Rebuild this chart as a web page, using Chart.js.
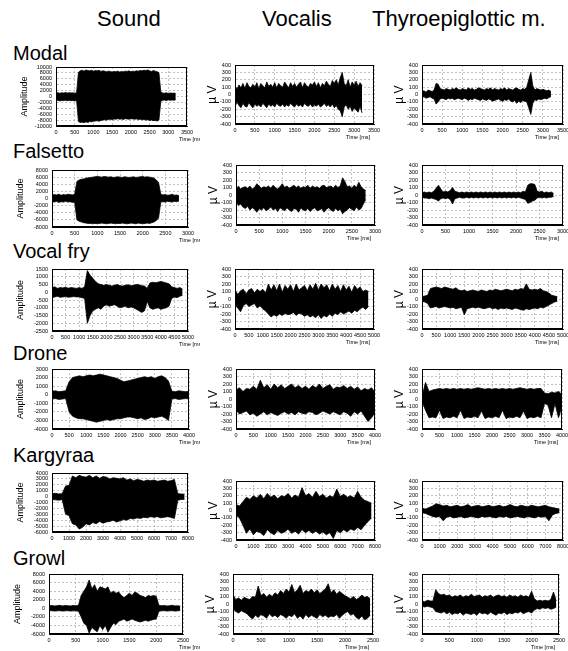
<!DOCTYPE html>
<html lang="en">
<head>
  <meta charset="UTF-8" />
  <title>Sound and EMG waveforms</title>
  <script src="https://cdn.jsdelivr.net/npm/chart.js"></script>
  <style>
    body {
      margin: 0;
      width: 568px;
      height: 651px;
      overflow: hidden;
      position: relative;
      background: #fff;
      font-family: 'Liberation Sans', Arial, sans-serif;
    }
    .lbl {
      position: absolute;
      color: #000;
      white-space: nowrap;
      font-size: 20px;
      line-height: 20px;
    }
    .head { font-size: 22px; line-height: 22px; }
    canvas { position: absolute; }
  </style>
</head>
<body>
<script>
  const rowNames = ['Modal', 'Falsetto', 'Vocal fry', 'Drone', 'Kargyraa', 'Growl'];
  const colNames = ['Sound', 'Vocalis', 'Thyroepiglottic m.'];

  // x axis per row (ms)
  const xMax = [3500, 3000, 5000, 4000, 8000, 2500];
  const xTickStep = [500, 500, 500, 500, 1000, 500];
  const sampleMs = [50, 50, 100, 100, 200, 50];
  const showTime = [true, true, true, true, false, true];

  // sound amplitude axis per row
  const ampMin = [-10000, -8000, -2500, -4000, -6000, -6000];
  const ampMax = [10000, 8000, 1500, 3000, 4000, 8000];
  const ampStep = [2000, 2000, 500, 1000, 1000, 2000];

  // EMG axis (µV)
  const emgMin = -400, emgMax = 400, emgStep = 100;

  // ---- Modal (0..3200 ms, every 50 ms) ----
  const modalSoundHi = [1200,1300,1100,1250,1200,1350,1150,1300,1200,1250,1100,1300,
    8200,8700,8900,8600,9000,8800,8700,8900,8600,8800,
    8700,8900,8500,8700,8600,8400,8600,8500,8300,8500,
    8400,8600,8300,8500,8400,8600,8500,8700,8400,8600,
    8500,8700,8600,8800,8700,8900,8800,9000,8700,8500,
    8800,8600,8400,8100,
    1500,
    1200,1100,1250,1000,1200,1100,1150,1000];
  const modalSoundLo = [-1400,-1300,-1500,-1350,-1400,-1250,-1450,-1300,-1400,-1350,-1500,-1300,
    -8500,-8800,-8700,-8900,-8600,-8800,-8500,-8600,-8400,-8300,
    -8200,-8400,-8100,-8000,-7900,-8000,-7800,-7700,-7900,-7600,
    -7700,-7500,-7700,-7600,-7800,-7500,-7600,-7700,-7500,-7600,
    -7700,-7600,-7800,-7700,-7900,-7800,-8000,-7900,-8100,-8000,
    -8200,-8100,-8300,-8000,
    -1600,
    -1300,-1200,-1400,-1100,-1300,-1200,-1250,-1100];
  const modalVocHi = [120,70,130,90,150,80,160,110,90,140,
    100,160,80,150,120,90,170,110,140,100,
    160,90,150,120,100,170,130,90,160,110,
    150,100,140,170,90,160,120,100,150,130,
    170,110,160,90,150,120,180,140,110,190,
    150,200,130,230,300,150,120,200,100,170,
    130,180,110,160,120];
  const modalVocLo = [-170,-100,-150,-180,-120,-160,-170,-110,-150,-180,
    -130,-160,-140,-170,-120,-150,-180,-130,-160,-140,
    -170,-120,-150,-160,-130,-170,-140,-160,-120,-150,
    -170,-130,-160,-140,-170,-120,-150,-160,-130,-170,
    -140,-160,-130,-170,-150,-120,-160,-140,-170,-130,
    -180,-150,-200,-220,-300,-170,-140,-200,-160,-230,
    -180,-210,-240,-160,-250];
  const modalThyHi = [40,50,30,60,50,40,60,150,140,80,
    70,60,80,70,60,80,70,90,70,60,
    80,70,60,90,70,80,60,70,90,80,
    70,60,80,70,90,60,80,70,60,80,
    70,90,60,80,70,60,80,90,70,60,
    80,70,100,200,300,120,60,80,70,60,
    70,60,50,60,40];
  const modalThyLo = [-40,-30,-50,-40,-30,-50,-60,-130,-100,-60,
    -50,-60,-70,-50,-60,-50,-70,-60,-50,-60,
    -70,-50,-60,-80,-60,-70,-50,-60,-70,-80,
    -60,-70,-80,-60,-70,-90,-80,-70,-60,-80,
    -90,-70,-80,-60,-90,-100,-80,-120,-90,-110,
    -80,-90,-100,-180,-270,-120,-70,-80,-60,-70,
    -60,-50,-60,-40,-30];

  // ---- Falsetto (0..2800 ms, every 50 ms) ----
  const falsSoundHi = [900,1100,1000,1200,900,1100,1000,1200,1100,1000,
    1200,4800,5200,5400,5500,5700,5800,5900,6000,6100,
    6200,6100,6000,6200,6100,6000,6100,5900,6000,6100,
    6000,5900,6100,6000,5900,6000,6100,5900,6000,6100,
    6200,6000,6100,6000,5900,5700,5200,4500,1200,1000,
    1100,900,1000,1200,900,1000,800];
  const falsSoundLo = [-900,-1000,-800,-1100,-900,-1000,-800,-1000,-900,-1100,
    -1000,-6000,-6400,-6600,-6800,-6900,-7000,-7000,-7100,-7000,
    -7100,-7000,-6900,-7000,-7100,-7000,-6900,-7000,-7100,-7000,
    -7000,-6900,-7000,-7100,-7000,-6900,-7000,-7100,-6900,-7000,
    -7100,-7000,-6900,-7000,-6800,-6600,-6200,-5500,-1000,-900,
    -1000,-800,-900,-1000,-800,-900,-700];
  const falsVocHi = [60,120,80,100,110,90,120,80,100,150,
    120,90,110,100,120,90,130,100,80,110,
    150,100,120,90,110,130,100,120,90,110,
    100,130,90,120,100,110,90,120,130,100,
    110,120,90,130,100,120,230,180,110,120,
    90,130,100,170,110,80,60];
  const falsVocLo = [-80,-140,-120,-160,-180,-150,-200,-170,-190,-230,
    -180,-200,-170,-210,-190,-160,-200,-180,-220,-170,
    -190,-210,-170,-200,-220,-180,-190,-230,-170,-200,
    -210,-180,-220,-190,-170,-210,-200,-180,-230,-190,
    -170,-200,-220,-180,-210,-190,-250,-220,-200,-170,
    -190,-210,-160,-200,-180,-120,-60];
  const falsThyHi = [30,40,30,40,30,50,90,130,80,40,
    50,40,60,100,50,40,30,40,30,40,
    30,40,30,40,30,40,30,40,30,40,
    30,40,30,40,30,40,30,40,30,40,
    30,40,30,50,40,130,150,150,140,50,
    40,50,30,40,30,40,20];
  const falsThyLo = [-30,-40,-40,-50,-40,-50,-60,-80,-50,-40,
    -50,-40,-60,-120,-50,-40,-30,-40,-40,-30,
    -40,-30,-40,-30,-40,-30,-40,-30,-40,-30,
    -40,-30,-40,-30,-40,-30,-40,-30,-40,-30,
    -40,-30,-40,-50,-60,-110,-100,-80,-70,-40,
    -30,-40,-30,-40,-30,-30,-20];

  // ---- Vocal fry (0..4800 ms, every 100 ms) ----
  const fryAmpHi = [300,350,250,300,280,320,260,300,280,250,
    300,250,350,1400,1100,900,700,550,500,450,
    500,450,400,450,500,420,400,450,480,420,
    450,500,480,420,400,250,600,650,620,650,
    700,650,600,550,350,300,250,300,200];
  const fryAmpLo = [-350,-300,-250,-330,-300,-280,-320,-300,-280,-300,
    -300,-350,-400,-2000,-1500,-1200,-1100,-1000,-1100,-900,
    -800,-900,-850,-800,-900,-1000,-950,-900,-1000,-950,
    -1000,-1100,-1200,-1300,-1200,-600,-1000,-1100,-1050,-1000,
    -1100,-1050,-1000,-900,-400,-300,-350,-250,-200];
  const fryVocHi = [120,60,110,130,70,120,140,80,130,100,
    130,80,200,120,190,110,200,90,180,130,
    190,100,200,120,150,180,110,190,130,210,
    120,200,150,190,110,200,130,180,100,190,
    120,170,90,180,130,160,100,120,100];
  const fryVocLo = [-80,-120,-170,-90,-60,-100,-80,-60,-120,-90,
    -130,-160,-200,-240,-210,-230,-200,-220,-190,-210,
    -200,-180,-220,-190,-200,-230,-210,-240,-220,-250,
    -210,-260,-220,-240,-200,-230,-190,-210,-170,-200,
    -180,-160,-190,-150,-170,-130,-110,-140,-100];
  const fryThyHi = [30,40,50,140,150,160,150,140,160,150,
    140,130,150,120,110,120,100,110,120,110,
    100,120,110,100,120,110,130,120,110,120,
    130,120,110,130,120,140,130,200,130,120,
    130,120,140,110,100,80,50,40,30];
  const fryThyLo = [-30,-40,-60,-120,-110,-100,-120,-110,-100,-110,
    -120,-110,-130,-120,-110,-210,-130,-120,-110,-120,
    -110,-120,-130,-120,-110,-130,-120,-140,-120,-130,
    -120,-130,-140,-120,-130,-140,-150,-130,-140,-130,
    -120,-130,-110,-120,-100,-80,-60,-40,-30];

  // ---- Drone (0..4000 ms, every 100 ms) ----
  const droneAmpHi = [400,450,350,400,450,1500,2000,2100,2200,2100,
    2200,2300,2200,2300,2400,2300,2200,2100,2000,1900,
    1700,1500,1600,1700,1800,1900,2000,2100,2000,2100,
    1900,2100,2200,2000,1600,400,350,450,400,350,400];
  const droneAmpLo = [-500,-450,-550,-500,-450,-2000,-2500,-2700,-2800,-2800,
    -2900,-3000,-3100,-3200,-3100,-3000,-2900,-3000,-2900,-2800,
    -2800,-2700,-2600,-2600,-2700,-2800,-2700,-2900,-2800,-2600,
    -2700,-2600,-2500,-2700,-3000,-500,-450,-550,-500,-450,-500];
  const droneVocHi = [120,150,100,140,130,170,130,250,150,190,
    130,200,150,190,140,170,200,150,180,140,
    170,130,180,150,200,140,170,190,130,160,
    150,180,140,170,130,160,110,140,120,150,
    90];
  const droneVocLo = [-150,-200,-180,-160,-210,-190,-230,-200,-170,-210,
    -180,-200,-220,-190,-170,-200,-180,-210,-170,-190,
    -200,-170,-180,-210,-190,-160,-180,-200,-170,-190,
    -210,-170,-190,-230,-170,-200,-160,-230,-300,-250,
    -180];
  const droneThyHi = [30,220,100,120,130,140,130,140,130,140,
    130,140,130,140,130,140,150,140,130,140,
    130,140,130,140,130,140,130,140,150,140,
    130,140,130,140,140,80,70,90,80,100,
    60];
  const droneThyLo = [-30,-150,-250,-240,-250,-150,-260,-240,-250,-230,
    -250,-150,-260,-240,-250,-230,-250,-160,-260,-240,
    -250,-230,-250,-150,-260,-240,-250,-230,-250,-160,
    -260,-240,-250,-230,-250,-60,-80,-250,-60,-250,
    -100];

  // ---- Kargyraa (0..7800 ms, every 200 ms) ----
  const kargAmpHi = [500,550,450,500,1800,1900,3500,3200,3600,3400,
    3300,3600,3200,3500,3100,3400,3300,3000,3200,3100,
    3000,3200,2800,3000,2700,2900,2800,2600,2800,2700,
    2800,2600,2700,2800,2600,2700,2900,500,450,400];
  const kargAmpLo = [-500,-550,-600,-500,-3000,-3200,-4600,-4800,-5500,-5200,
    -4600,-4800,-4400,-4600,-4200,-4500,-4300,-4200,-4000,-4300,
    -4100,-3900,-4000,-3700,-3800,-3600,-3700,-3500,-3600,-3400,
    -3500,-3400,-3600,-3500,-3400,-3500,-3700,-600,-500,-450];
  const kargVocHi = [80,60,120,180,150,200,170,220,160,230,
    180,210,160,200,190,230,170,210,180,310,
    200,230,180,260,190,220,170,200,180,290,
    190,220,180,200,170,260,180,140,120,100];
  const kargVocLo = [-60,-100,-200,-310,-250,-330,-280,-300,-340,-260,
    -300,-330,-270,-310,-290,-250,-310,-280,-320,-260,
    -300,-270,-310,-280,-320,-290,-330,-300,-380,-270,
    -300,-260,-290,-250,-270,-230,-260,-200,-150,-100];
  const kargThyHi = [30,20,40,60,90,80,60,70,50,60,
    70,50,60,80,50,60,70,50,60,70,
    50,60,70,50,60,80,60,50,70,60,
    50,70,60,50,60,70,50,40,30,20];
  const kargThyLo = [-30,-40,-60,-80,-90,-80,-140,-90,-80,-100,
    -90,-80,-100,-90,-80,-90,-100,-80,-90,-80,
    -90,-100,-80,-90,-80,-100,-90,-80,-90,-100,
    -80,-90,-100,-80,-90,-80,-140,-60,-40,-30];

  // ---- Growl (0..2450 ms, every 50 ms) ----
  const growlAmpHi = [600,650,550,600,700,550,650,600,550,650,
    600,700,3000,4000,5000,6600,4500,5500,4000,5000,
    4800,4500,5000,3500,4000,3500,3800,3000,2500,3000,
    3500,3000,3800,3500,3000,2800,2500,3000,2800,3000,
    2800,700,600,650,550,600,700,550,600,500];
  const growlAmpLo = [-600,-550,-650,-600,-550,-650,-600,-550,-650,-600,
    -600,-700,-2000,-3500,-4000,-5800,-4500,-5000,-5500,-4000,
    -5000,-4000,-5600,-4500,-3500,-3800,-3000,-2800,-2500,-3000,
    -2800,-2500,-2800,-3000,-3200,-3000,-2800,-3000,-2800,-2600,
    -2500,-700,-600,-550,-650,-600,-550,-650,-600,-500];
  const growlVocHi = [120,60,80,50,90,70,60,100,90,240,
    110,140,90,130,100,150,120,180,140,200,
    160,260,150,190,250,140,180,160,200,150,
    190,140,170,200,270,150,190,130,170,140,
    110,90,70,100,60,80,120,90,100,70];
  const growlVocLo = [-60,-100,-120,-90,-110,-130,-170,-200,-150,-180,
    -140,-160,-190,-130,-170,-150,-180,-140,-160,-190,
    -150,-170,-130,-190,-160,-200,-140,-180,-150,-170,
    -190,-140,-170,-150,-180,-160,-170,-140,-190,-150,
    -120,-100,-150,-130,-180,-200,-160,-210,-190,-150];
  const growlThyHi = [40,30,50,40,40,190,140,120,130,110,
    120,90,110,100,120,90,110,100,130,100,
    110,120,90,110,100,120,90,110,120,100,
    110,90,120,100,110,90,120,100,110,90,
    170,70,40,50,40,50,40,60,160,40];
  const growlThyLo = [-30,-40,-30,-40,-50,-100,-110,-120,-100,-130,
    -110,-140,-120,-130,-110,-150,-120,-130,-140,-120,
    -150,-110,-130,-120,-140,-110,-130,-150,-120,-130,
    -110,-140,-120,-130,-110,-120,-100,-130,-110,-100,
    -120,-80,-60,-70,-50,-60,-50,-70,-60,-40];

  const series = [
    [[modalSoundHi, modalSoundLo], [modalVocHi, modalVocLo], [modalThyHi, modalThyLo]],
    [[falsSoundHi, falsSoundLo], [falsVocHi, falsVocLo], [falsThyHi, falsThyLo]],
    [[fryAmpHi, fryAmpLo], [fryVocHi, fryVocLo], [fryThyHi, fryThyLo]],
    [[droneAmpHi, droneAmpLo], [droneVocHi, droneVocLo], [droneThyHi, droneThyLo]],
    [[kargAmpHi, kargAmpLo], [kargVocHi, kargVocLo], [kargThyHi, kargThyLo]],
    [[growlAmpHi, growlAmpLo], [growlVocHi, growlVocLo], [growlThyHi, growlThyLo]]
  ];

  // plot areas on the page: [left, top, right, bottom]
  const boxes = [
    [[56, 67, 187, 126], [235, 65, 374, 124], [422, 65, 563, 124]],
    [[52, 170, 188, 227], [236, 165, 375, 225], [422, 165, 563, 225]],
    [[52, 269, 188, 331], [235, 269, 374, 329], [422, 269, 563, 329]],
    [[52, 369, 189, 429], [236, 369, 375, 429], [422, 369, 562, 429]],
    [[52, 473, 188, 532], [236, 481, 375, 540], [422, 481, 563, 540]],
    [[49, 574, 183, 634], [233, 574, 373, 634], [422, 574, 559, 634]]
  ];
  const headLeft = [97, 262, 372];
  const rowTop = [43, 141, 241, 343, 445, 548];

  const FONT = "'Liberation Sans', Arial, sans-serif";

  colNames.forEach((name, c) => {
    const d = document.createElement('div');
    d.className = 'lbl head';
    d.textContent = name;
    d.style.left = headLeft[c] + 'px';
    d.style.top = '8px';
    document.body.appendChild(d);
  });
  rowNames.forEach((name, r) => {
    const d = document.createElement('div');
    d.className = 'lbl';
    d.textContent = name;
    d.style.left = '13px';
    d.style.top = rowTop[r] + 'px';
    document.body.appendChild(d);
  });

  // frame round the plot area + axis titles
  const framePlugin = {
    id: 'frame',
    afterDraw(chart, args, o) {
      const { ctx, chartArea: a } = chart;
      ctx.save();
      ctx.strokeStyle = '#000';
      ctx.lineWidth = 1;
      ctx.strokeRect(a.left + 0.5, a.top + 0.5, a.right - a.left - 1, a.bottom - a.top - 1);
      ctx.fillStyle = '#000';
      ctx.save();
      ctx.translate(a.left - o.yOffset, (a.top + a.bottom) / 2);
      ctx.rotate(-Math.PI / 2);
      ctx.font = o.ySize + 'px ' + FONT;
      ctx.textAlign = 'center';
      ctx.textBaseline = 'middle';
      ctx.fillText(o.yTitle, 0, 0);
      ctx.restore();
      if (o.time) {
        ctx.font = '5.5px ' + FONT;
        ctx.textBaseline = 'middle';
        ctx.textAlign = o.timeAlign;
        ctx.fillText('Time [ms]', o.timeX, a.bottom + 13);
      }
      ctx.restore();
    }
  };

  const pts = (vals, step) => vals.map((v, i) => ({ x: i * step, y: v }));

  rowNames.forEach((rowName, r) => {
    colNames.forEach((colName, c) => {
      const [L, T, R, B] = boxes[r][c];
      const axisW = 48, padTop = 6, axisH = 24;
      const left = L - axisW;
      const right = c === 0 ? 200 : R + 16;
      const cv = document.createElement('canvas');
      cv.width = right - left;
      cv.height = B - T + padTop + axisH;
      cv.style.left = left + 'px';
      cv.style.top = (T - padTop) + 'px';
      document.body.appendChild(cv);

      const [hi, lo] = series[r][c];
      const sound = c === 0;
      const tickFont = { size: 5.5, family: FONT };

      new Chart(cv, {
        type: 'line',
        data: {
          datasets: [
            { data: pts(hi, sampleMs[r]), borderColor: '#000', backgroundColor: '#000',
              borderWidth: 0.8, pointRadius: 0, fill: '+1', tension: 0 },
            { data: pts(lo, sampleMs[r]), borderColor: '#000', backgroundColor: '#000',
              borderWidth: 0.8, pointRadius: 0, fill: false, tension: 0 }
          ]
        },
        options: {
          responsive: false,
          animation: false,
          devicePixelRatio: 1,
          events: [],
          layout: { padding: { left: 0, top: padTop, right: right - R, bottom: 0 } },
          plugins: {
            legend: { display: false },
            tooltip: { enabled: false },
            frame: {
              yTitle: sound ? 'Amplitude' : 'µ V',
              ySize: sound ? 9 : 12,
              yOffset: sound ? 31 : 22,
              time: showTime[r],
              timeAlign: sound ? 'left' : 'right',
              timeX: sound ? 179 - left : R - 4 - left
            }
          },
          scales: {
            x: {
              type: 'linear',
              min: 0,
              max: xMax[r],
              ticks: {
                stepSize: xTickStep[r], autoSkip: false, maxRotation: 0, minRotation: 0,
                color: '#000', font: tickFont, padding: 3,
                callback: v => String(v)
              },
              grid: { color: '#a8a8a8', lineWidth: 0.7, drawTicks: false },
              border: { display: true, color: '#000', width: 1, dash: [2, 2] },
              afterFit: s => { s.height = axisH; s.paddingLeft = 0; s.paddingRight = 0; }
            },
            y: {
              min: sound ? ampMin[r] : emgMin,
              max: sound ? ampMax[r] : emgMax,
              ticks: {
                stepSize: sound ? ampStep[r] : emgStep, autoSkip: false,
                color: '#000', font: tickFont, padding: 4,
                callback: v => String(v)
              },
              grid: { color: '#a8a8a8', lineWidth: 0.7, drawTicks: false },
              border: { display: true, color: '#000', width: 1, dash: [2, 2] },
              afterFit: s => { s.width = axisW; s.paddingTop = 0; s.paddingBottom = 0; }
            }
          }
        },
        plugins: [framePlugin]
      });
    });
  });
</script>
</body>
</html>
